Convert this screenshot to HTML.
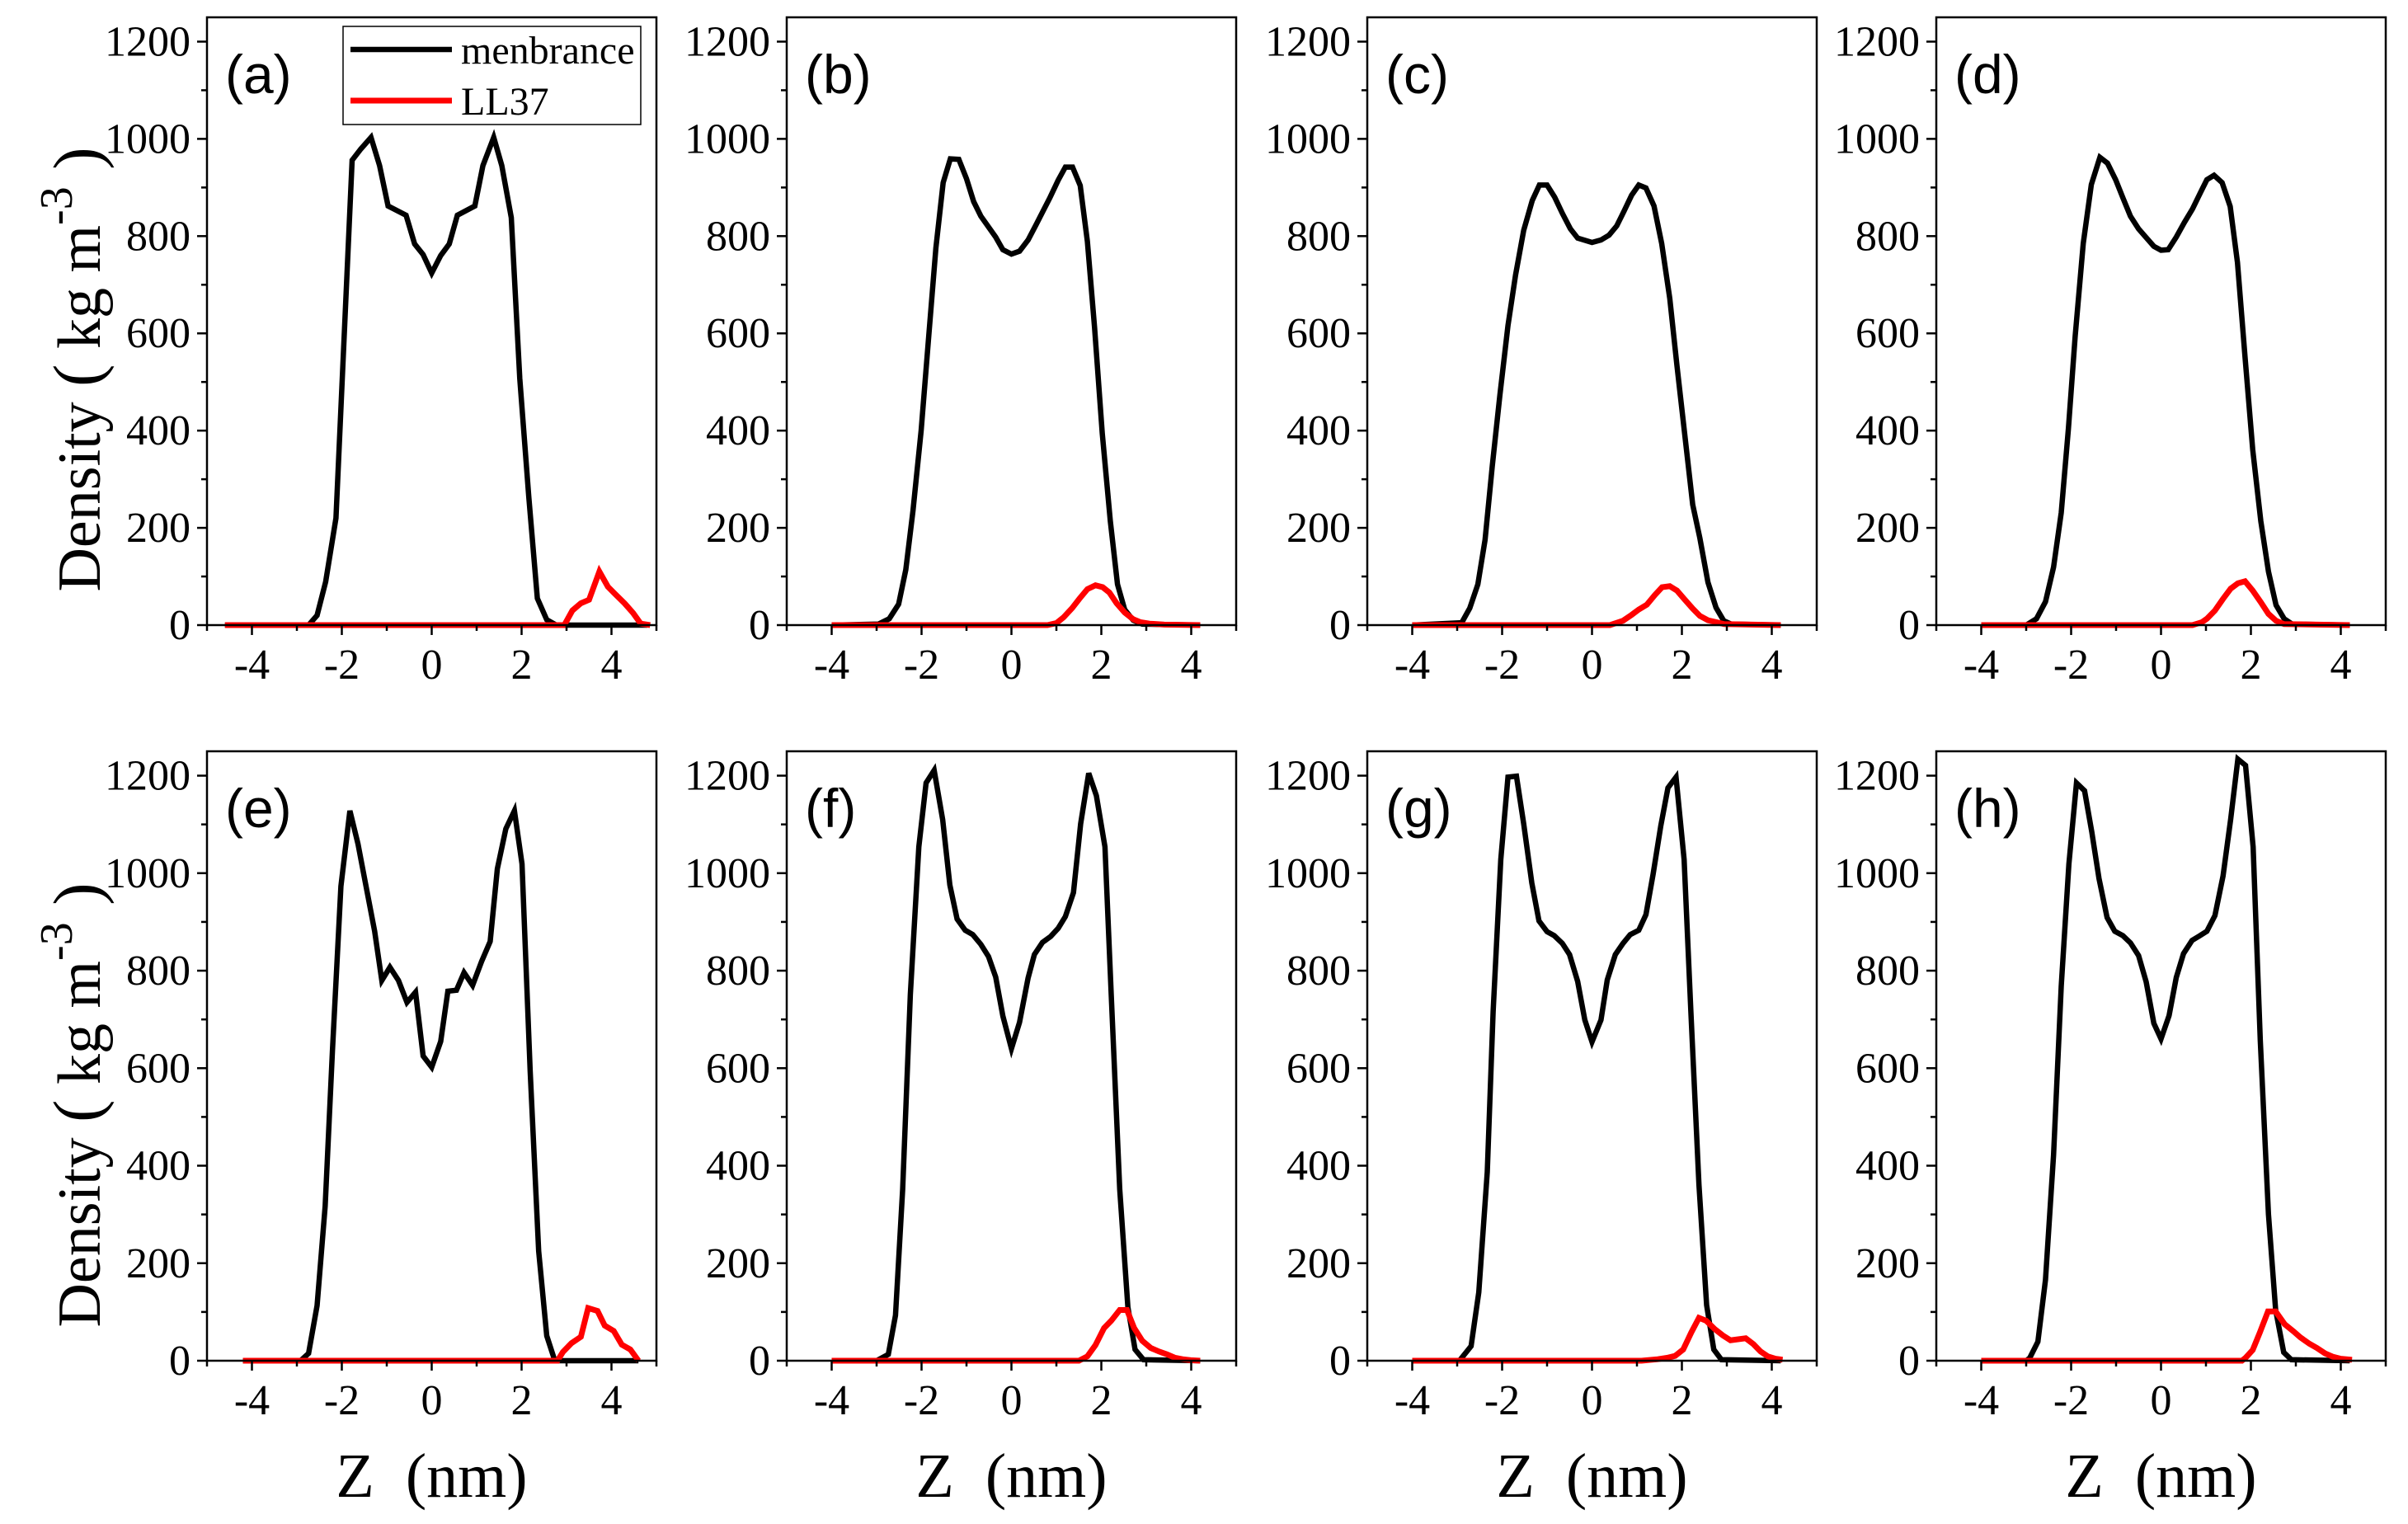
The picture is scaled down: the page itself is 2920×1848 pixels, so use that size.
<!DOCTYPE html>
<html><head><meta charset="utf-8"><style>
html,body{margin:0;padding:0;background:#fff;}
svg{display:block;}
</style></head><body>
<svg id="fig" width="2920" height="1848" viewBox="0 0 2920 1848" xmlns="http://www.w3.org/2000/svg"></svg>
<script>
// ---- data (Z in nm, density in kg m^-3) ----
const xTicks = [-4, -2, 0, 2, 4];
const xTickLabels = ["-4", "-2", "0", "2", "4"];
const yTicks = [0, 200, 400, 600, 800, 1000, 1200];
const yTickLabels = ["0", "200", "400", "600", "800", "1000", "1200"];
const panelLetters = ["(a)", "(b)", "(c)", "(d)", "(e)", "(f)", "(g)", "(h)"];

const zMemA = [-4.6,-2.74,-2.55,-2.36,-2.13,-1.77,-1.58,-1.35,-1.16,-0.97,-0.57,-0.38,-0.19,0,0.2,0.39,0.57,0.96,1.14,1.38,1.56,1.77,1.96,2.16,2.35,2.56,2.77,4.8];
const memA = [0,0,20,89,220,956,979,1003,945,862,843,784,762,724,760,784,843,862,945,1003,945,838,507,264,55,11,0,0];
const zLlA = [-4.6,2.95,3.13,3.32,3.5,3.73,3.92,4.08,4.29,4.48,4.65,4.86];
const llA = [0,0,30,45,52,110,79,64,45,25,3,0];

const zMemB = [-4,-2.96,-2.72,-2.51,-2.35,-2.19,-2.01,-1.84,-1.68,-1.52,-1.36,-1.17,-1.0,-0.84,-0.68,-0.35,-0.19,0,0.18,0.37,0.55,0.86,1.04,1.2,1.36,1.53,1.69,1.85,2.02,2.2,2.36,2.52,2.71,2.91,4.2];
const memB = [0,2,13,43,114,235,400,594,776,910,959,958,918,871,841,798,772,763,769,792,824,880,915,942,942,904,789,612,395,214,84,32,10,2,0];
const zLlB = [-4,0.8,1.0,1.16,1.35,1.51,1.69,1.87,2.03,2.18,2.34,2.52,2.71,2.87,3.07,3.4,4.2];
const llB = [0,0,4,16,35,54,74,82,78,67,45,26,12,6,3,1,0];

const zMemC = [-4,-2.9,-2.72,-2.54,-2.38,-2.22,-2.05,-1.87,-1.7,-1.52,-1.33,-1.17,-1.0,-0.83,-0.66,-0.48,-0.32,0,0.2,0.38,0.55,0.71,0.88,1.04,1.2,1.38,1.55,1.73,1.89,2.08,2.24,2.4,2.58,2.76,2.93,3.1,4.2];
const memC = [0,5,35,84,175,326,473,616,720,812,873,905,905,880,847,815,796,787,792,802,821,851,884,905,899,862,785,672,534,378,248,179,88,36,9,2,0];
const zLlC = [-4,0.4,0.69,0.88,1.04,1.22,1.4,1.56,1.73,1.89,2.05,2.24,2.4,2.58,2.77,2.94,4.2];
const llC = [0,0,9,21,32,42,62,78,80,71,54,34,19,10,6,2,0];

const zMemD = [-4,-3.0,-2.77,-2.57,-2.39,-2.22,-2.06,-1.91,-1.73,-1.55,-1.36,-1.19,-1.01,-0.84,-0.68,-0.5,-0.34,-0.16,0,0.16,0.34,0.52,0.7,0.87,1.02,1.18,1.36,1.54,1.7,1.87,2.04,2.22,2.39,2.56,2.74,2.92,4.2];
const memD = [0,0,13,48,119,231,404,594,785,906,962,950,916,877,841,815,798,779,771,772,798,828,856,888,916,925,910,861,746,551,361,214,110,41,13,2,0];
const zLlD = [-4,0.7,0.91,1.02,1.2,1.38,1.55,1.71,1.87,2.04,2.22,2.39,2.56,2.74,4.2];
const llD = [0,0,6,13,30,54,75,86,90,71,47,23,9,2,0];

const zMemE = [-4.2,-2.92,-2.74,-2.55,-2.37,-2.21,-2.02,-1.82,-1.64,-1.46,-1.27,-1.11,-0.93,-0.74,-0.55,-0.36,-0.19,0,0.2,0.36,0.55,0.72,0.91,1.11,1.3,1.46,1.65,1.84,2.01,2.19,2.38,2.56,2.74,4.6];
const memE = [0,0,15,113,317,635,973,1128,1060,973,881,780,807,780,735,756,625,602,655,758,760,796,770,819,860,1009,1091,1128,1019,594,225,51,0,0];
const zLlE = [-4.2,2.8,2.92,3.11,3.32,3.48,3.69,3.85,4.05,4.23,4.42,4.6];
const llE = [0,0,18,36,49,108,102,72,61,33,23,0];

const zMemF = [-4,-3.0,-2.74,-2.58,-2.42,-2.25,-2.06,-1.9,-1.72,-1.53,-1.37,-1.21,-1.03,-0.86,-0.68,-0.51,-0.35,-0.19,0,0.18,0.37,0.51,0.69,0.87,1.04,1.2,1.38,1.54,1.72,1.89,2.08,2.22,2.41,2.59,2.75,2.94,4.2];
const memF = [0,0,13,93,352,751,1054,1185,1211,1110,976,906,883,874,854,829,787,707,640,694,785,833,858,870,887,911,960,1101,1205,1159,1054,751,352,110,23,2,0];
const zLlF = [-4,1.5,1.69,1.87,2.06,2.22,2.41,2.57,2.73,2.91,3.1,3.28,3.46,3.64,3.81,3.99,4.2];
const llF = [0,0,9,32,67,82,104,104,67,41,26,19,13,6,3,1,0];

const zMemG = [-4,-2.95,-2.69,-2.52,-2.33,-2.2,-2.03,-1.87,-1.68,-1.52,-1.34,-1.18,-1.0,-0.84,-0.66,-0.5,-0.32,-0.16,0,0.2,0.34,0.52,0.69,0.85,1.04,1.2,1.36,1.53,1.69,1.87,2.05,2.2,2.38,2.55,2.71,2.88,4.2];
const memG = [0,0,30,140,387,716,1028,1197,1199,1101,980,902,880,872,856,833,778,699,654,699,781,833,856,874,883,915,998,1097,1175,1197,1028,716,361,114,23,2,0];
const zLlG = [-4,1.1,1.46,1.67,1.85,2.03,2.21,2.38,2.54,2.73,2.91,3.08,3.42,3.59,3.75,3.91,4.08,4.24];
const llG = [0,0,3,6,10,23,58,88,82,65,52,42,46,34,19,9,4,2];

const zMemH = [-4,-3.0,-2.92,-2.74,-2.57,-2.39,-2.22,-2.05,-1.88,-1.7,-1.54,-1.38,-1.2,-1.03,-0.85,-0.68,-0.5,-0.33,-0.16,0,0.18,0.34,0.5,0.69,0.85,1.02,1.2,1.38,1.55,1.71,1.88,2.05,2.21,2.39,2.55,2.73,2.9,4.2];
const memH = [0,0,6,39,166,422,768,1019,1185,1169,1084,989,909,881,872,857,831,777,692,660,708,786,835,862,871,881,913,994,1111,1234,1221,1054,656,300,104,17,2,0];
const zLlH = [-4,1.8,1.88,2.04,2.2,2.38,2.55,2.75,2.95,3.1,3.3,3.47,3.65,3.83,4.0,4.25];
const llH = [0,0,6,22,58,101,101,75,60,48,35,26,15,8,4,2];

// ---- layout ----
const NS = "http://www.w3.org/2000/svg";
const svg = document.getElementById("fig");
const colL = [251, 954, 1658, 2348];
const colW = 545;
const rowTop = [21, 911];
const rowBot = [758, 1650];
const series = [
  [zMemA, memA, zLlA, llA], [zMemB, memB, zLlB, llB], [zMemC, memC, zLlC, llC], [zMemD, memD, zLlD, llD],
  [zMemE, memE, zLlE, llE], [zMemF, memF, zLlF, llF], [zMemG, memG, zLlG, llG], [zMemH, memH, zLlH, llH]
];
const FONT = '"Liberation Serif", serif';

function mk(tag, attrs, parent) {
  const e = document.createElementNS(NS, tag);
  for (const k in attrs) e.setAttribute(k, attrs[k]);
  (parent || svg).appendChild(e);
  return e;
}

for (let p = 0; p < 8; p++) {
  const r = Math.floor(p / 4), c = p % 4;
  const L = colL[c], R = L + colW, T = rowTop[r], B = rowBot[r];
  const xs = z => L + (z + 5) / 10 * (R - L);
  const ys = v => B - v / 1250 * (B - T);
  const g = mk("g", {});
  
  

  const [zm, m, zl, l] = series[p];
  const memPts = zm.map((z, i) => xs(z).toFixed(1) + "," + ys(m[i]).toFixed(1)).join(" ");
  const memLine = mk("polyline", {points: memPts, fill: "none", stroke: "#000", "stroke-width": 6.5, "stroke-linejoin": "miter"}, g);
  
  
  const llPts = zl.map((z, i) => xs(z).toFixed(1) + "," + ys(l[i]).toFixed(1)).join(" ");
  const llLine = mk("polyline", {points: llPts, fill: "none", stroke: "#ff0000", "stroke-width": 7, "stroke-linejoin": "miter"}, g);
  
  

  const frame = mk("rect", {x: L, y: T, width: R - L, height: B - T, fill: "none", stroke: "#000", "stroke-width": 2.5}, g);
  
  

  for (let z = -5; z <= 5; z++) {
    const major = (z % 2 === 0);
    mk("line", {x1: xs(z), y1: B, x2: xs(z), y2: B + (major ? 12 : 7), stroke: "#000", "stroke-width": 2.5}, g);
  }
  xTicks.forEach((t, i) => {
    const tx = mk("text", {x: xs(t), y: B + 65, "font-family": FONT, "font-size": 52, "text-anchor": "middle"}, g);
    tx.textContent = xTickLabels[i];
    
    
  });
  for (let v = 0; v <= 1200; v += 100) {
    const major = (v % 200 === 0);
    mk("line", {x1: L, y1: ys(v), x2: L - (major ? 12 : 7), y2: ys(v), stroke: "#000", "stroke-width": 2.5}, g);
  }
  yTicks.forEach((t, i) => {
    const ty = mk("text", {x: L - 20, y: ys(t) + 17, "font-family": FONT, "font-size": 52, "text-anchor": "end"}, g);
    ty.textContent = yTickLabels[i];
    
    
  });
  const pl = mk("text", {x: L + 22, y: T + 92, "font-family": '"Liberation Sans", sans-serif', "font-size": 66}, g);
  pl.textContent = panelLetters[p];
  
  

  if (r === 1) {
    const xt = mk("text", {x: (L + R) / 2, y: 1815, "font-family": FONT, "font-size": 76, "text-anchor": "middle", style: "white-space:pre"}, g);
    xt.textContent = "Z\u00a0\u00a0(nm)";
    
    
  }
  if (c === 0) {
    const cy = r === 0 ? 448 : 1340;
    const yt = mk("text", {x: 0, y: 0, "font-family": FONT, "font-size": 74, "text-anchor": "middle", transform: "translate(121," + cy + ") rotate(-90)"}, g);
    
    
    const t1 = mk("tspan", {}, yt); t1.textContent = "Density ";
    const t1b = mk("tspan", {"font-size": 82}, yt); t1b.textContent = "(";
    const t1c = mk("tspan", {}, yt); t1c.textContent = " kg m";
    const t2 = mk("tspan", {dy: -34, "font-size": 56}, yt); t2.textContent = "-3";
    const t3 = mk("tspan", {dy: 34, "font-size": 82}, yt); t3.textContent = " )";
  }

  if (p === 0) {
    const lg = mk("g", {}, g);
    
    
    mk("rect", {x: 416, y: 32, width: 361, height: 119, fill: "#fff", stroke: "#000", "stroke-width": 1.5}, lg);
    mk("line", {x1: 425, y1: 60, x2: 548, y2: 60, stroke: "#000", "stroke-width": 6.5}, lg);
    mk("line", {x1: 425, y1: 122, x2: 548, y2: 122, stroke: "#ff0000", "stroke-width": 7}, lg);
    const e1 = mk("text", {x: 559, y: 77, "font-family": FONT, "font-size": 48}, lg);
    e1.textContent = "menbrance";
    
    
    const e2 = mk("text", {x: 559, y: 139, "font-family": FONT, "font-size": 48}, lg);
    e2.textContent = "LL37";
    
    
  }
}
</script>
</body></html>
